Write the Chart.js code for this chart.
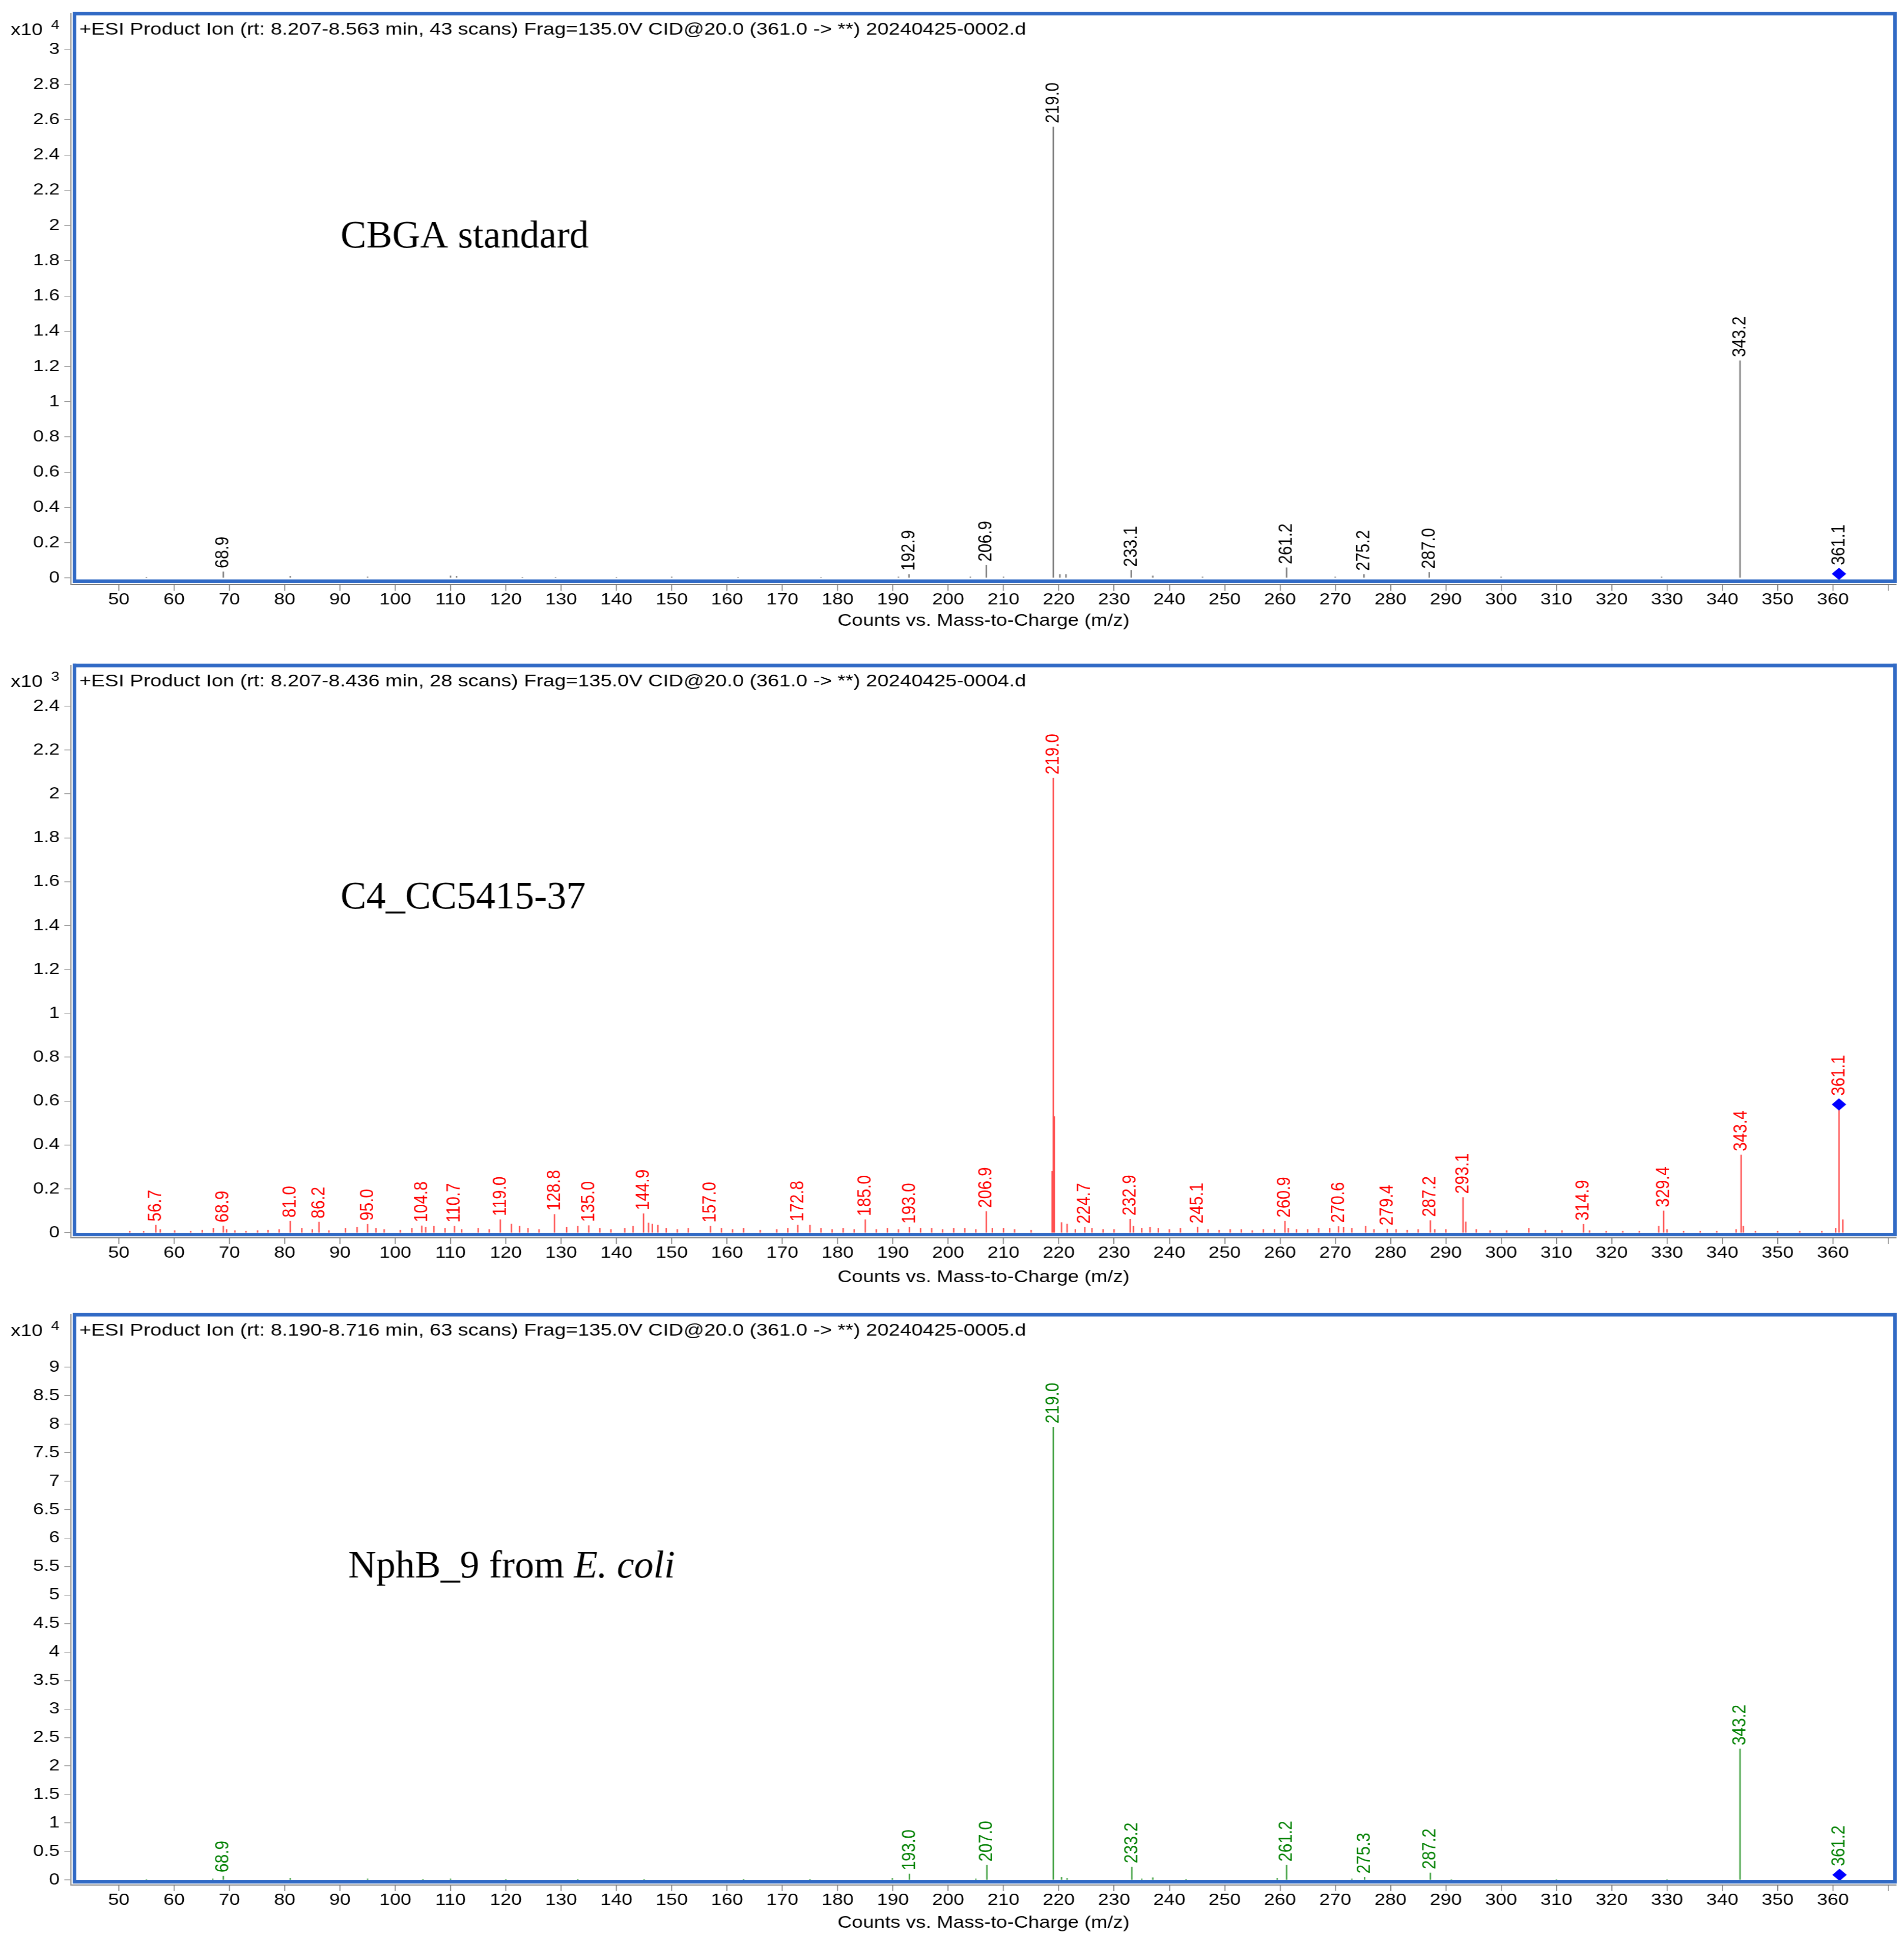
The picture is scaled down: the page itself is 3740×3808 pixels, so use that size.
<!DOCTYPE html>
<html><head><meta charset="utf-8">
<script src="https://cdn.jsdelivr.net/npm/chart.js@4.4.1/dist/chart.umd.min.js"></script>
<style>
html,body{margin:0;padding:0;background:#fff;}
body{width:3740px;height:3808px;position:relative;overflow:hidden;}
.panel{position:absolute;left:0;width:3169px;transform:scaleX(1.18019);transform-origin:0 0;}
</style></head><body>
<div class="panel" style="top:0;height:1265px"><canvas id="c1"></canvas></div>
<div class="panel" style="top:1265px;height:1280px"><canvas id="c2"></canvas></div>
<div class="panel" style="top:2545px;height:1263px"><canvas id="c3"></canvas></div>
<script>
// ---------- data ----------
const X_TICKS = [50,60,70,80,90,100,110,120,130,140,150,160,170,180,190,200,210,220,230,240,250,260,270,280,290,300,310,320,330,340,350,360,370];
const X_TITLE = 'Counts vs. Mass-to-Charge (m/z)';

// Panel 1 : CBGA standard (x10^4 counts)
const P1_HEADER = '+ESI Product Ion (rt: 8.207-8.563 min, 43 scans) Frag=135.0V CID@20.0 (361.0 -> **) 20240425-0002.d';
const P1_NAME = 'CBGA standard';
const P1_EXP = '4';
const P1_YTICKS = [0,0.2,0.4,0.6,0.8,1,1.2,1.4,1.6,1.8,2,2.2,2.4,2.6,2.8,3];
const P1_PEAK_MZ = [68.9,192.9,206.9,219.0,233.1,261.2,275.2,287.0,343.2];
const P1_PEAK_Y  = [0.035,0.02,0.072,2.56,0.043,0.058,0.02,0.032,1.233];
const P1_PREC_MZ = [361.1];
const P1_PREC_Y  = [0.023];
const P1_MINOR_MZ = [55.0,81.0,95.0,110.0,111.1,123.0,129.0,140.0,150.0,162.0,177.0,191.0,204.0,210.0,220.2,221.3,237.0,246.0,270.0,300.0,329.0];
const P1_MINOR_Y  = [0.005,0.01,0.006,0.012,0.01,0.005,0.005,0.004,0.006,0.005,0.004,0.006,0.006,0.006,0.02,0.02,0.012,0.006,0.006,0.006,0.006];

// Panel 2 : C4_CC5415-37 (x10^3 counts)
const P2_HEADER = '+ESI Product Ion (rt: 8.207-8.436 min, 28 scans) Frag=135.0V CID@20.0 (361.0 -> **) 20240425-0004.d';
const P2_NAME = 'C4_CC5415-37';
const P2_EXP = '3';
const P2_YTICKS = [0,0.2,0.4,0.6,0.8,1,1.2,1.4,1.6,1.8,2,2.2,2.4];
const P2_PEAK_MZ = [56.7,68.9,81.0,86.2,95.0,104.8,110.7,119.0,128.8,135.0,144.9,157.0,172.8,185.0,193.0,206.9,219.0,224.7,232.9,245.1,260.9,270.6,279.4,287.2,293.1,314.9,329.4,343.4];
const P2_PEAK_Y  = [0.035,0.031,0.053,0.049,0.039,0.032,0.03,0.06,0.084,0.033,0.087,0.03,0.035,0.06,0.025,0.097,2.072,0.025,0.062,0.026,0.053,0.029,0.017,0.056,0.161,0.039,0.1,0.355];
const P2_PREC_MZ = [361.1];
const P2_PREC_Y  = [0.585];
const P2_MINOR_MZ = [52.0,54.5,57.5,60.1,63.0,65.1,67.1,69.5,71.0,73.0,75.1,77.0,79.0,83.1,85.0,88.0,91.0,93.1,96.5,98.0,100.9,103.0,105.5,107.0,109.0,112.0,115.0,117.0,121.0,122.5,124.0,126.0,131.0,133.0,137.0,139.0,141.5,143.0,145.8,146.5,147.5,149.0,151.0,153.0,159.0,161.0,163.0,166.0,169.0,171.0,175.0,177.0,179.0,181.0,183.0,187.0,189.0,191.0,195.0,197.0,199.0,201.0,203.0,205.0,208.0,210.0,212.0,215.0,218.8,219.2,220.5,221.5,223.0,226.0,228.0,230.0,233.5,235.0,236.5,238.0,240.0,242.0,247.0,249.0,251.0,253.0,255.0,257.0,259.0,261.5,263.0,265.0,267.0,269.0,271.5,273.0,275.5,277.0,281.0,283.0,285.0,288.0,290.0,293.6,295.5,298.0,301.0,305.0,308.0,311.0,316.0,319.0,322.0,325.0,328.5,330.0,333.0,336.0,339.0,342.5,343.8,346.0,350.0,354.0,358.0,360.5,361.8];
const P2_MINOR_Y  = [0.008,0.006,0.015,0.01,0.008,0.012,0.02,0.015,0.01,0.008,0.01,0.012,0.015,0.02,0.015,0.01,0.02,0.025,0.02,0.015,0.012,0.02,0.025,0.03,0.02,0.015,0.02,0.015,0.04,0.03,0.02,0.015,0.025,0.03,0.02,0.015,0.02,0.03,0.045,0.04,0.035,0.02,0.015,0.02,0.02,0.015,0.02,0.012,0.015,0.02,0.035,0.02,0.015,0.02,0.015,0.015,0.02,0.015,0.02,0.02,0.015,0.02,0.02,0.015,0.02,0.02,0.015,0.012,0.28,0.53,0.047,0.04,0.015,0.02,0.015,0.015,0.03,0.02,0.025,0.02,0.015,0.02,0.015,0.012,0.015,0.015,0.01,0.015,0.015,0.02,0.015,0.015,0.02,0.02,0.025,0.02,0.03,0.015,0.015,0.012,0.015,0.015,0.015,0.05,0.015,0.01,0.01,0.02,0.012,0.01,0.01,0.008,0.008,0.008,0.03,0.015,0.008,0.008,0.008,0.015,0.03,0.008,0.008,0.008,0.008,0.02,0.06];

// Panel 3 : NphB_9 from E. coli (x10^4 counts)
const P3_HEADER = '+ESI Product Ion (rt: 8.190-8.716 min, 63 scans) Frag=135.0V CID@20.0 (361.0 -> **) 20240425-0005.d';
const P3_NAME = 'NphB_9 from ';
const P3_NAME_ITALIC = 'E. coli';
const P3_EXP = '4';
const P3_YTICKS = [0,0.5,1,1.5,2,2.5,3,3.5,4,4.5,5,5.5,6,6.5,7,7.5,8,8.5,9];
const P3_PEAK_MZ = [68.9,193.0,207.0,219.0,233.2,261.2,275.3,287.2,343.2];
const P3_PEAK_Y  = [0.07,0.107,0.26,7.95,0.23,0.26,0.05,0.125,2.3];
const P3_PREC_MZ = [361.2];
const P3_PREC_Y  = [0.09];
const P3_MINOR_MZ = [55.0,67.0,81.0,95.0,105.0,110.0,120.0,133.0,145.0,163.0,175.0,189.9,205.0,220.5,221.5,235.0,237.0,243.0,259.5,273.0,291.0,310.0,330.0];
const P3_MINOR_Y  = [0.01,0.02,0.03,0.02,0.015,0.02,0.015,0.015,0.015,0.015,0.015,0.03,0.02,0.05,0.03,0.02,0.04,0.015,0.03,0.02,0.01,0.01,0.01];

// ---------- rendering ----------
const K = 3740/3169;
const SANS = '"Liberation Sans", Arial, sans-serif';
const SERIF = '"Liberation Serif", "Times New Roman", serif';
Chart.defaults.font.family = SANS;
Chart.defaults.color = '#000';

function pts(xs, ys){ return xs.map((x,i)=>({x:x, y:ys[i]})); }

function makePanel(id, p){
  const peaks = pts(p.peakMz, p.peakY);
  const prec = pts(p.precMz, p.precY);
  const minors = pts(p.minorMz, p.minorY);
  const deco = {
    id:'deco'+id,
    afterDatasetsDraw(chart){
      const ctx = chart.ctx, a = chart.chartArea;
      const xs = chart.scales.x, ys = chart.scales.y;
      ctx.save();
      // blue frame
      ctx.fillStyle = '#316ac5';
      const L = a.left + 6, R = a.right - 2, T = a.top, B = a.bottom - 6.5;
      ctx.fillRect(L-3, T-3.5, R-L+6, 7);
      ctx.fillRect(L-3, B-3.5, R-L+6, 7);
      ctx.fillRect(L-3, T-3.5, 6, B-T+7);
      ctx.fillRect(R-3, T-3.5, 6, B-T+7);
      // peak labels (rotated)
      ctx.fillStyle = p.labelColor;
      ctx.font = '32px ' + SANS;
      ctx.textAlign = 'left';
      ctx.textBaseline = 'middle';
      const drawLab = (mz, yb) => {
        ctx.save();
        ctx.translate(xs.getPixelForValue(mz), yb);
        ctx.rotate(-Math.PI/2);
        ctx.fillText(mz.toFixed(1), 0, 0);
        ctx.restore();
      };
      peaks.forEach(d => drawLab(d.x, ys.getPixelForValue(d.y) - 7));
      prec.forEach(d => drawLab(d.x, ys.getPixelForValue(d.y) - 12 - 5));
      // header
      ctx.fillStyle = '#000';
      ctx.font = '34px ' + SANS;
      ctx.fillText(p.header, a.left + 14, a.top + 32);
      // exponent
      ctx.font = '33px ' + SANS;
      ctx.fillText('x10', 17.8, a.top + 33);
      ctx.font = '25px ' + SANS;
      ctx.fillText(p.exp, 85, a.top + 23);
      // sample name (not stretched)
      ctx.scale(1/K, 1);
      ctx.textBaseline = 'alphabetic';
      ctx.font = '76px ' + SERIF;
      ctx.fillText(p.name, p.nameX, p.nameY);
      if (p.nameItalic) {
        const w = ctx.measureText(p.name).width;
        ctx.font = 'italic 76px ' + SERIF;
        ctx.fillText(p.nameItalic, p.nameX + w, p.nameY);
      }
      ctx.restore();
    }
  };
  return new Chart(document.getElementById(id), {
    type:'bar',
    data:{datasets:[
      {type:'scatter', data:prec, pointStyle:'rectRot', pointRadius:12, pointHoverRadius:12,
       backgroundColor:'#0000ff', borderColor:'#0000ff', borderWidth:0, clip:false, order:0},
      {type:'bar', data:peaks.concat(prec, minors), backgroundColor:p.stick,
       barThickness:1.7, grouped:false, order:1}
    ]},
    options:{
      responsive:true, maintainAspectRatio:false, animation:false,
      layout:{padding:{top:p.padTop, right:13, bottom:0, left:0}},
      plugins:{legend:{display:false}, tooltip:{enabled:false}},
      scales:{
        x:{type:'linear', min:41.34, max:371.45, offset:false,
          afterBuildTicks:s=>{ s.ticks = X_TICKS.map(v=>({value:v})); },
          afterFit:s=>{ s.height = p.xh; },
          ticks:{autoSkip:false, maxRotation:0, minRotation:0, padding:2, color:'#000',
            font:{size:32, lineHeight:1}, callback:v=> v<=360 ? String(v) : ''},
          grid:{drawOnChartArea:false, drawTicks:true, tickLength:12, color:'#777', lineWidth:1.5, offset:false},
          border:{display:true, color:'#777', width:2},
          title:{display:true, text:X_TITLE, color:'#000', font:{size:33, lineHeight:1.2},
            padding:{top:0, bottom:p.titlePad}}
        },
        y:{type:'linear', min:p.ymin, max:p.ymax,
          afterBuildTicks:s=>{ s.ticks = p.yTicks.map(v=>({value:v})); },
          afterFit:s=>{ s.width = 118; },
          ticks:{autoSkip:false, padding:7.6, color:'#000', font:{size:32},
            callback:v=> String(+(+v).toFixed(1))},
          grid:{drawOnChartArea:false, drawTicks:true, tickLength:11, color:'#999', lineWidth:1.5},
          border:{display:true, color:'#999', width:2}
        }
      }
    },
    plugins:[deco]
  });
}

makePanel('c1', {header:P1_HEADER, name:P1_NAME, exp:P1_EXP, yTicks:P1_YTICKS,
  peakMz:P1_PEAK_MZ, peakY:P1_PEAK_Y, precMz:P1_PREC_MZ, precY:P1_PREC_Y, minorMz:P1_MINOR_MZ, minorY:P1_MINOR_Y,
  stick:'#7a7a7a', labelColor:'#000', padTop:24, xh:117, titlePad:25.2, ymin:-0.0375, ymax:3.202,
  nameX:669, nameY:486});
makePanel('c2', {header:P2_HEADER, name:P2_NAME, exp:P2_EXP, yTicks:P2_YTICKS,
  peakMz:P2_PEAK_MZ, peakY:P2_PEAK_Y, precMz:P2_PREC_MZ, precY:P2_PREC_Y, minorMz:P2_MINOR_MZ, minorY:P2_MINOR_Y,
  stick:'#ff5050', labelColor:'#ff0000', padTop:42, xh:114, titlePad:16.2, ymin:-0.0232, ymax:2.585,
  nameX:669, nameY:519});
makePanel('c3', {header:P3_HEADER, name:P3_NAME, nameItalic:P3_NAME_ITALIC, exp:P3_EXP, yTicks:P3_YTICKS,
  peakMz:P3_PEAK_MZ, peakY:P3_PEAK_Y, precMz:P3_PREC_MZ, precY:P3_PREC_Y, minorMz:P3_MINOR_MZ, minorY:P3_MINOR_Y,
  stick:'#3fa03f', labelColor:'#008000', padTop:37, xh:106, titlePad:11.2, ymin:-0.089, ymax:9.92,
  nameX:684, nameY:553});
</script>
</body></html>
